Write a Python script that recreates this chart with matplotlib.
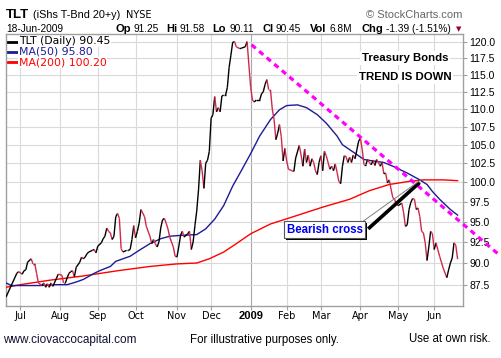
import numpy as np
import matplotlib
matplotlib.use('Agg')
import matplotlib.pyplot as plt
from matplotlib.collections import LineCollection
from matplotlib.ticker import FixedLocator, NullLocator, FormatStrFormatter
import matplotlib.patheffects as pe

W, H = 501, 358

# x axis = NYSE trading sessions counted from 19-Jun-2008
START = '2008-06-19'
HOLIDAYS = ['2008-07-04', '2008-09-01', '2008-11-27', '2008-12-25', '2009-01-01',
            '2009-01-19', '2009-02-16', '2009-04-10', '2009-05-25']

# TLT daily close (turning points)
tlt_day = [0, 6, 7, 9, 10, 11, 12, 14, 15, 16, 17, 18, 20, 21, 22, 23, 24, 25, 26, 28,
           29, 31, 32, 33, 34, 35, 36, 37, 38, 39, 41, 42, 43, 44, 45, 46, 48, 49, 50, 51,
           53, 54, 55, 56, 57, 58, 59, 60, 61, 62, 63, 64, 65, 67, 68, 69, 70, 71, 72, 73,
           74, 75, 77, 78, 80, 81, 82, 83, 84, 85, 86, 87, 88, 89, 90, 91, 93, 94, 95, 96,
           97, 98, 99, 100, 101, 102, 103, 104, 105, 106, 107, 108, 109, 110, 111, 112, 113, 114, 115, 116,
           117, 118, 119, 120, 121, 122, 123, 124, 125, 126, 127, 128, 130, 131, 133, 134, 135, 136, 137, 138,
           139, 141, 142, 143, 144, 145, 146, 147, 148, 149, 150, 151, 152, 153, 154, 155, 156, 157, 159, 160,
           161, 163, 164, 165, 166, 167, 168, 169, 170, 171, 172, 173, 174, 175, 176, 177, 178, 180, 181, 182,
           183, 184, 185, 186, 187, 188, 189, 190, 191, 192, 193, 194, 195, 196, 197, 198, 199, 200, 201, 202,
           203, 204, 205, 206, 207, 208, 209, 210, 211, 212, 213, 214, 215, 216, 217, 218, 220, 221, 222, 223,
           224, 225, 226, 227, 228, 229, 230, 231, 232, 233, 234, 235, 236, 237, 238, 239, 240, 241, 242, 243,
           245, 246, 247, 248, 249, 250, 251]
tlt_close = [86.1, 88.8, 89.0, 88.7, 89.1, 89.2, 90.1, 90.5, 89.9, 89.9, 88.8, 87.7, 87.4, 87.7, 87.2, 87.6, 87.2, 87.7, 87.3, 88.2,
             88.7, 88.6, 87.7, 87.7, 88.3, 88.8, 89.0, 89.1, 88.4, 89.5, 90.1, 90.7, 90.5, 90.7, 91.1, 91.3, 91.5, 91.6, 91.2, 92.0,
             92.4, 92.9, 93.2, 94.2, 93.8, 93.6, 92.8, 93.2, 95.6, 96.0, 95.4, 91.7, 91.3, 91.5, 91.5, 91.6, 92.8, 94.5, 93.0, 93.8,
             94.8, 96.5, 95.6, 94.4, 93.2, 92.3, 92.8, 92.3, 91.9, 92.5, 94.2, 95.2, 95.4, 94.8, 94.1, 93.1, 91.9, 90.8, 90.7, 91.9,
             93.3, 93.8, 93.1, 93.3, 93.5, 93.8, 91.6, 92.5, 94.5, 96.3, 99.0, 102.9, 101.5, 99.2, 102.5, 102.9, 104.1, 108.7, 109.2, 111.8,
             109.6, 110.2, 109.6, 111.9, 112.0, 112.0, 113.1, 116.1, 118.0, 120.0, 120.1, 119.3, 119.0, 119.1, 119.3, 120.1, 116.5, 113.1, 111.3, 111.0,
             111.3, 111.3, 112.2, 112.5, 113.6, 114.3, 112.8, 112.8, 110.0, 108.5, 105.7, 106.6, 107.8, 106.1, 102.8, 104.5, 102.8, 101.7, 101.5, 101.4,
             103.2, 104.9, 103.6, 102.1, 104.4, 102.6, 103.6, 102.1, 103.1, 102.6, 101.5, 101.0, 102.6, 103.5, 101.5, 104.1, 103.5, 101.7, 102.1, 101.5,
             102.4, 101.3, 100.1, 99.8, 102.1, 103.5, 103.4, 102.6, 103.3, 102.6, 103.6, 103.1, 104.3, 105.5, 105.9, 104.3, 102.3, 102.3, 103.0, 102.6,
             102.3, 102.9, 102.2, 103.0, 102.6, 102.1, 102.6, 101.1, 101.2, 99.9, 100.3, 99.1, 98.0, 97.8, 97.1, 97.0, 97.3, 96.1, 94.4, 94.6,
             96.5, 97.4, 97.9, 97.8, 96.5, 96.7, 95.6, 93.8, 93.6, 92.4, 90.3, 91.9, 93.8, 93.5, 91.6, 92.4, 91.6, 90.8, 90.1, 89.4,
             88.3, 89.2, 90.0, 90.6, 92.4, 92.1, 90.45]

ma50_day = [0, 3, 19, 28, 34, 39, 43, 49, 52, 58, 61, 65, 69, 74, 80, 86, 91, 97, 106, 111,
            116, 121, 126, 131, 136, 141, 147, 152, 156, 162, 167, 173, 178, 184, 187, 193, 199, 204, 210, 215,
            223, 230, 234, 237, 241, 247, 251]
ma50 = [87.7, 87.4, 87.4, 87.5, 87.5, 87.8, 88.1, 88.8, 89.1, 89.6, 90.2, 90.5, 90.8, 91.5, 92.3, 92.9, 93.2, 93.3, 93.4, 94.1,
        95.3, 97.0, 99.5, 101.6, 103.8, 106.2, 108.5, 109.9, 110.5, 110.6, 110.2, 109.2, 108.0, 106.2, 105.0, 104.0, 103.0, 102.8, 102.6, 102.1,
        101.2, 100.3, 99.7, 98.8, 97.8, 96.5, 95.8]

ma200_day = [0, 8, 24, 43, 62, 80, 95, 106, 113, 121, 128, 136, 147, 161, 176, 191, 202, 213, 224, 232, 243, 251]
ma200 = [87.2, 87.5, 88.0, 88.5, 89.1, 89.6, 89.9, 90.0, 90.5, 91.3, 92.3, 93.5, 94.7, 95.7, 96.8, 97.8, 98.9, 99.7, 100.1, 100.3, 100.3, 100.2]

month_first = ['2008-07-01', '2008-08-01', '2008-09-01', '2008-10-01', '2008-11-01', '2008-12-01',
               '2009-01-01', '2009-02-01', '2009-03-01', '2009-04-01', '2009-05-01', '2009-06-01']
month_labels = ['Jul', 'Aug', 'Sep', 'Oct', 'Nov', 'Dec', '2009', 'Feb', 'Mar', 'Apr', 'May', 'Jun']
y_ticks = [87.5, 90.0, 92.5, 95.0, 97.5, 100.0, 102.5, 105.0, 107.5, 110.0, 112.5, 115.0, 117.5, 120.0]

# hand-drawn trend line (session, price) end points
trend_day = [136.5, 274.5]
trend_val = [119.6, 90.9]

PRICE_DOWN = '#d0284a'
MA50_COL = '#1c1c96'
MA200_COL = '#ff0000'

fig = plt.figure(figsize=(W / 100, H / 100), dpi=100)
ax = fig.add_axes([6 / W, 1 - 306 / H, (463 - 6) / W, (306 - 34) / H])
ax.set_yscale('log')

ax.plot(ma200_day, ma200, color=MA200_COL, lw=1.0, zorder=3)
ax.plot(ma50_day, ma50, color=MA50_COL, lw=1.0, zorder=3)

xs = np.array(tlt_day, dtype=float)
ys = np.array(tlt_close)
pts = np.column_stack([xs, ys])
segs = np.stack([pts[:-1], pts[1:]], axis=1)
cols = np.where(np.diff(ys) >= 0, 'black', PRICE_DOWN)
ax.add_collection(LineCollection(segs, colors=cols, linewidths=1.0, zorder=4))

ax.set_xlim(0, 254)
ax.set_ylim(85.1, 121.3)

# axes styling
for s in ax.spines.values():
    s.set_color('#a0a0a0')
    s.set_linewidth(1.0)
ax.yaxis.tick_right()
ax.yaxis.set_major_locator(FixedLocator(y_ticks))
ax.yaxis.set_major_formatter(FormatStrFormatter('%.1f'))
ax.yaxis.set_minor_locator(NullLocator())
ax.tick_params(axis='y', which='major', length=3, color='#a0a0a0', pad=1.5,
               labelsize=7.5, labelcolor='black')
for lab in ax.get_yticklabels():
    lab.set_family('Liberation Sans')

month_pos = [np.busday_count(START, d, holidays=HOLIDAYS) for d in month_first]
ax.set_xticks(month_pos)
ax.set_xticklabels(month_labels)
ax.tick_params(axis='x', length=3, color='#a0a0a0', pad=0.8, labelsize=7)
for lab in ax.get_xticklabels():
    if lab.get_text() == '2009':
        lab.set_fontweight('bold')
        lab.set_family('Liberation Sans')
        lab.set_fontsize(8)

ax.grid(True, color='#dadada', lw=0.8, zorder=0)
ax.set_axisbelow(True)
ax.get_xgridlines()[month_labels.index('2009')].set_color('#a8a8a8')

# magenta down trend line
ax.plot(trend_day, trend_val, color='#ff00ff', lw=2.3, linestyle=(0, (1.7, 1.4)),
        dash_capstyle='butt', clip_on=False, zorder=6)

# in-chart legend
leg = [('TLT (Daily) 90.45', 'black'), ('MA(50) 95.80', MA50_COL), ('MA(200) 100.20', MA200_COL)]
for i, (txt, c) in enumerate(leg):
    yy = 1 - (41.5 + i * 10.3 - 34) / 272
    ax.plot([0.004, 0.024], [yy, yy], color=c, lw=2, transform=ax.transAxes, zorder=7, clip_on=False)
    ax.text(0.028, yy, txt, color=c, fontsize=7.8, va='center', ha='left', transform=ax.transAxes,
            zorder=7, bbox=dict(facecolor='white', edgecolor='none', pad=0.3))

# notes
note_kw = dict(fontsize=8.2, fontweight='bold', family='Liberation Sans', ha='center', va='center',
               transform=ax.transAxes, zorder=7, bbox=dict(facecolor='white', edgecolor='none', pad=1.5))
ax.text((405 - 6) / 457, (306 - 58) / 272, 'Treasury Bonds', **note_kw)
ax.text((405 - 6) / 457, (306 - 77) / 272, 'TREND IS DOWN', **note_kw)

# bearish cross call-out, pointing at the MA(50)/MA(200) crossing
grid_x = np.arange(200, 252)
diff = np.interp(grid_x, ma50_day, ma50) - np.interp(grid_x, ma200_day, ma200)
k = np.where(np.diff(np.sign(diff)) != 0)[0][0]
cross_x = grid_x[k] + diff[k] / (diff[k] - diff[k + 1])
cross_y = np.interp(cross_x, ma200_day, ma200)

ax.plot([201.3, cross_x - 0.4], [94.1, cross_y - 0.3], color='black', lw=2.6, zorder=7,
        solid_capstyle='butt')
ax.plot([197.6, cross_x], [94.9, cross_y], color='#808080', lw=0.7, zorder=7)
ax.text(177.2, 94.0, 'Bearish cross', color='#0000ee', fontsize=8.3, fontweight='bold',
        family='Liberation Sans', ha='center', va='center', zorder=8,
        bbox=dict(boxstyle='square,pad=0.22', facecolor='white', edgecolor='#555555', lw=0.8,
                  path_effects=[pe.withSimplePatchShadow(offset=(1.5, -1.5), shadow_rgbFace='black', alpha=1)]))


def ftext(px, py, s, **kw):
    kw.setdefault('va', 'center')
    kw.setdefault('family', 'Liberation Sans')
    fig.text(px / W, 1 - py / H, s, **kw)


# header
ftext(6, 15, 'TLT', fontsize=9.5, fontweight='bold')
ftext(33, 15.5, '(iShs T-Bnd 20+y)', fontsize=7.8)
ftext(126, 15.5, 'NYSE', fontsize=7, family='DejaVu Sans')
ftext(462, 15, '\u00a9 StockCharts.com', fontsize=8, color='#666666', ha='right')
ftext(6, 28.7, '18-Jun-2009', fontsize=7.3)
quote = [(116, 'Op', 134, '91.25'), (166.7, 'Hi', 180, '91.58'), (212, 'Lo', 229, '90.11'),
         (262.7, 'Cl', 276, '90.45'), (310, 'Vol', 330, '6.8M'), (361.7, 'Chg', 386, '-1.39 (-1.51%)')]
for lx, lab, vx, val in quote:
    ftext(lx, 28.7, lab, fontsize=8, fontweight='bold')
    ftext(vx, 28.7, val, fontsize=7.3)
ftext(459, 29.5, '\u25bc', fontsize=5, color='#990033', ha='center', family='DejaVu Sans')

# footer
ftext(3, 340, 'www.ciovaccocapital.com', fontsize=8.5, color='#111133')
ftext(190, 340.5, 'For illustrative purposes only.', fontsize=8.3)
ftext(409, 339.5, 'Use at own risk.', fontsize=8.3)

fig.savefig('out.png', dpi=100)
